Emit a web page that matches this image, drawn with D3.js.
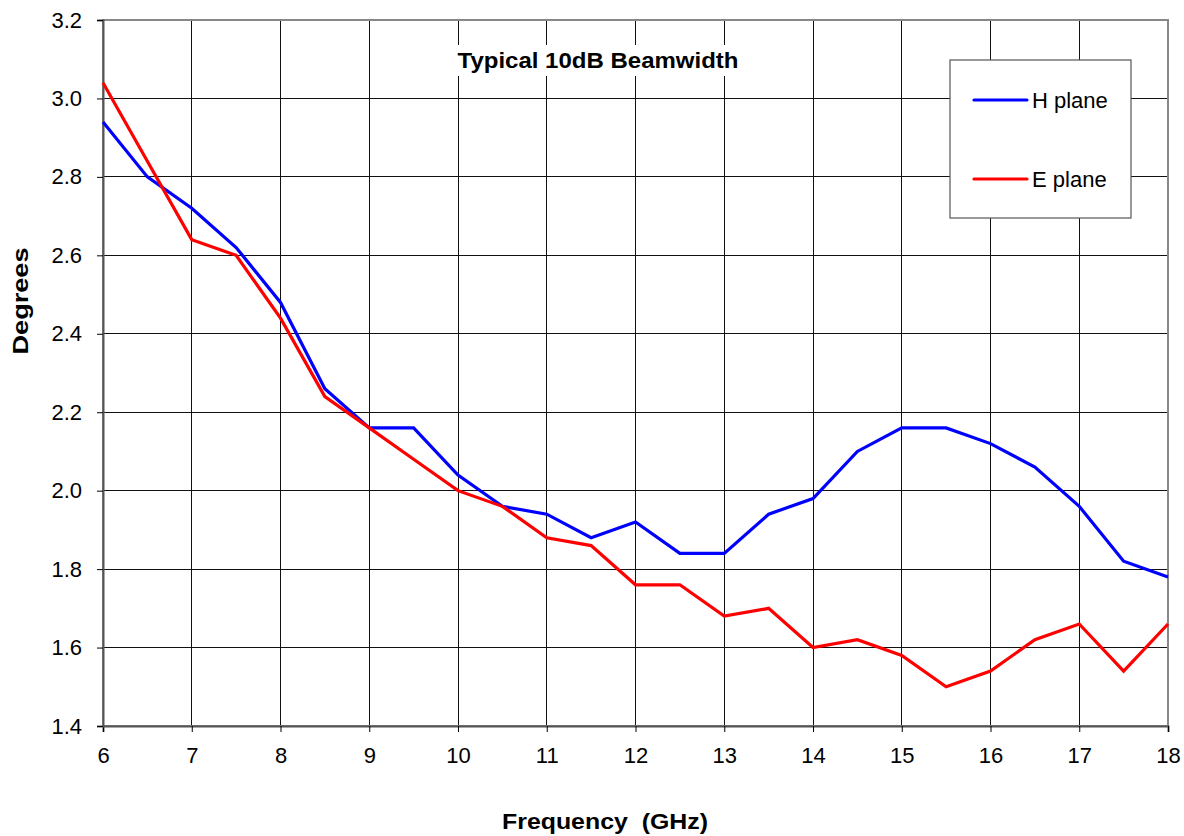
<!DOCTYPE html>
<html><head><meta charset="utf-8">
<script src="https://cdn.jsdelivr.net/npm/d3@7"></script>
<style>body{margin:0;background:#fff}svg{display:block;font-family:"Liberation Sans",Arial,sans-serif}</style>
</head><body>
<svg id="c" width="1184" height="836"></svg>
<script>
const freq = [6,6.5,7,7.5,8,8.5,9,9.5,10,10.5,11,11.5,12,12.5,13,13.5,14,14.5,15,15.5,16,16.5,17,17.5,18];
const hPlane = [2.94,2.80,2.72,2.62,2.48,2.26,2.16,2.16,2.04,1.96,1.94,1.88,1.92,1.84,1.84,1.94,1.98,2.10,2.16,2.16,2.12,2.06,1.96,1.82,1.78];
const ePlane = [3.04,2.84,2.64,2.60,2.44,2.24,2.16,2.08,2.00,1.96,1.88,1.86,1.76,1.76,1.68,1.70,1.60,1.62,1.58,1.50,1.54,1.62,1.66,1.54,1.66];
const xTicks = [6,7,8,9,10,11,12,13,14,15,16,17,18];
const yTicks = [1.4,1.6,1.8,2.0,2.2,2.4,2.6,2.8,3.0,3.2];
const seriesNames = ["H plane","E plane"];
const seriesColors = ["#0000ff","#ff0000"];

const svg = d3.select("#c");
const L=103, R=1168, T=20, B=726;
const x = d3.scaleLinear().domain([6,18]).range([L,R]);
const y = d3.scaleLinear().domain([1.4,3.2]).range([B,T]);

// grid
const g = svg.append("g");
g.selectAll("line.v").data(xTicks.slice(1,-1)).join("line")
  .attr("x1",d=>x(d)).attr("x2",d=>x(d)).attr("y1",T).attr("y2",B)
  .attr("stroke","#111").attr("stroke-width",1).attr("shape-rendering","crispEdges");
g.selectAll("line.h").data(yTicks.slice(1,-1)).join("line")
  .attr("y1",d=>y(d)).attr("y2",d=>y(d)).attr("x1",L).attr("x2",R)
  .attr("stroke","#111").attr("stroke-width",1).attr("shape-rendering","crispEdges");

// border
svg.append("rect").attr("x",L).attr("y",T).attr("width",R-L).attr("height",B-T)
  .attr("fill","none").attr("stroke","#888").attr("stroke-width",2);

// axes
const xAxis = svg.append("g").attr("transform",`translate(0,${B})`)
  .call(d3.axisBottom(x).tickValues(xTicks).tickSize(6).tickPadding(15).tickFormat(d3.format("d")));
const yAxis = svg.append("g").attr("transform",`translate(${L},0)`)
  .call(d3.axisLeft(y).tickValues(yTicks).tickSize(6).tickPadding(15).tickFormat(d3.format(".1f")));
[xAxis,yAxis].forEach(a=>{
  a.select(".domain").attr("stroke","#555").attr("stroke-width",2);
  a.selectAll(".tick line").attr("stroke","#000");
  a.selectAll(".tick text").attr("font-size",22).attr("fill","#000")
   .attr("font-family","'Liberation Sans',Arial,sans-serif");
});

// lines
const line = d3.line().x((d,i)=>x(freq[i])).y(d=>y(d));
[hPlane,ePlane].forEach((s,k)=>{
  svg.append("path").datum(s).attr("d",line).attr("fill","none")
    .attr("stroke",seriesColors[k]).attr("stroke-width",3.2).attr("stroke-linejoin","miter");
});

// title with white background
const titleBg = svg.append("rect").attr("fill","#fff");
const title = svg.append("text").attr("x",598).attr("y",68).attr("text-anchor","middle")
  .attr("font-size",22).attr("font-weight","bold")
  .attr("textLength",281).attr("lengthAdjust","spacingAndGlyphs").text("Typical 10dB Beamwidth");
const bb = title.node().getBBox();
titleBg.attr("x",bb.x-4).attr("y",bb.y-3).attr("width",bb.width+8).attr("height",bb.height+6);

// legend
const leg = svg.append("g");
leg.append("rect").attr("x",950).attr("y",60).attr("width",181).attr("height",158)
  .attr("fill","#fff").attr("stroke","#555").attr("stroke-width",1.2);
const legY = [100,179];
seriesNames.forEach((n,k)=>{
  leg.append("line").attr("x1",974).attr("x2",1027).attr("y1",legY[k]).attr("y2",legY[k])
    .attr("stroke",seriesColors[k]).attr("stroke-width",3.2).attr("stroke-linecap","round");
  leg.append("text").attr("x",1032).attr("y",legY[k]+8).attr("font-size",22).text(n);
});

// axis titles
svg.append("text").attr("x",605).attr("y",829).attr("text-anchor","middle")
  .attr("font-size",22).attr("font-weight","bold").style("white-space","pre")
  .attr("textLength",206).attr("lengthAdjust","spacingAndGlyphs").text("Frequency  (GHz)");
svg.append("text").attr("transform","translate(28,301) rotate(-90)").attr("text-anchor","middle")
  .attr("font-size",22).attr("font-weight","bold")
  .attr("textLength",107).attr("lengthAdjust","spacingAndGlyphs").text("Degrees");
</script>
</body></html>
